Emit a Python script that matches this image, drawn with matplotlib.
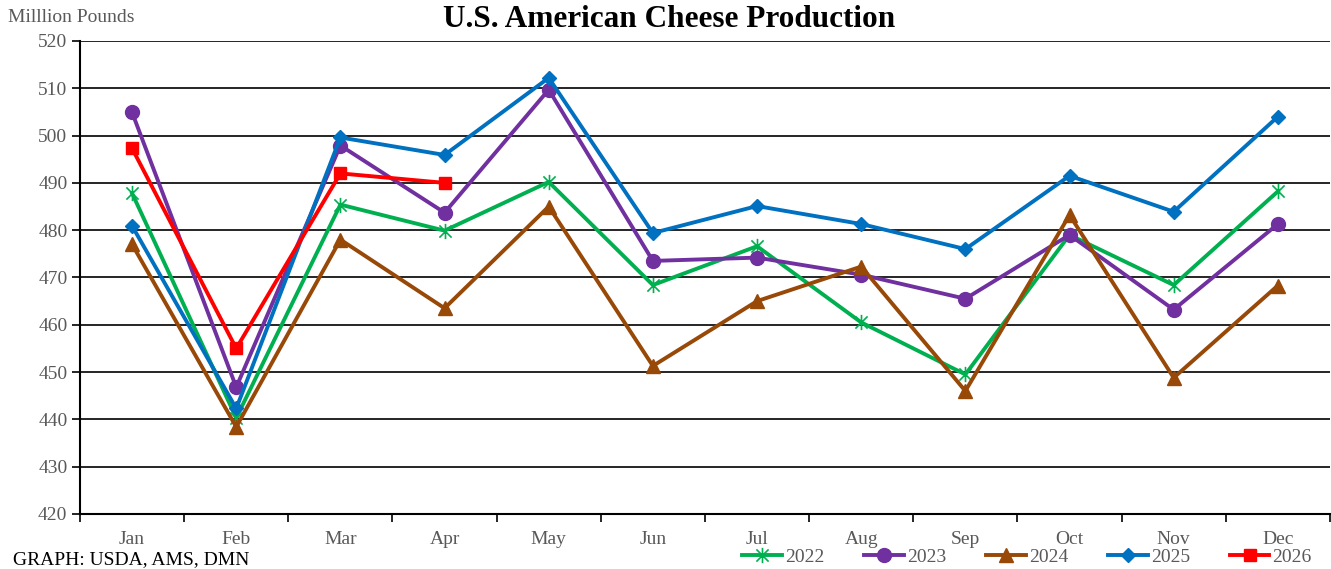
import matplotlib.pyplot as plt
from matplotlib.path import Path

plt.rcParams['font.family'] = ['Liberation Serif', 'DejaVu Serif']

# Monthly American cheese production, million pounds
months = ['Jan', 'Feb', 'Mar', 'Apr', 'May', 'Jun', 'Jul', 'Aug', 'Sep', 'Oct', 'Nov', 'Dec']
y2022 = [487.8, 440.3, 485.4, 479.9, 490.2, 468.4, 476.6, 460.5, 449.5, 479.0, 468.4, 488.2]
y2023 = [504.9, 446.8, 497.9, 483.7, 509.7, 473.5, 474.2, 470.6, 465.5, 479.0, 463.2, 481.3]
y2024 = [477.0, 438.4, 478.0, 463.5, 485.0, 451.3, 465.0, 472.3, 446.0, 483.2, 448.8, 468.3]
y2025 = [480.9, 442.3, 499.6, 495.9, 512.2, 479.4, 485.1, 481.3, 476.0, 491.5, 483.9, 504.0]
y2026 = [497.3, 455.0, 492.0, 490.0]

# Excel-style star marker: vertical bar plus an X
star = Path([(0, -1), (0, 1), (-0.8, -0.8), (0.8, 0.8), (-0.8, 0.8), (0.8, -0.8)],
            [Path.MOVETO, Path.LINETO, Path.MOVETO, Path.LINETO, Path.MOVETO, Path.LINETO])

x = list(range(1, 13))

fig = plt.figure(figsize=(13.31, 5.69), dpi=100)
ax = fig.add_axes([0.0601, 0.0967, 0.9391, 0.8313])

ax.plot(x, y2022, color='#00B050', lw=2.8, marker=star, markersize=11,
        markeredgewidth=1.2, label='2022')
ax.plot(x, y2023, color='#7030A0', lw=2.8, marker='o', markersize=10, label='2023')
ax.plot(x, y2024, color='#984807', lw=2.8, marker='^', markersize=10, label='2024')
ax.plot(x, y2025, color='#0070C0', lw=2.8, marker='D', markersize=7, label='2025')
ax.plot(x[:len(y2026)], y2026, color='#FF0000', lw=2.8, marker='s', markersize=9, label='2026')

ax.set_xlim(0.5, 12.5)
ax.set_ylim(420, 520)
ax.set_yticks(range(420, 521, 10))
ax.yaxis.grid(True, color='black', lw=1.2)
ax.set_axisbelow(True)

ax.set_xticks(x)
ax.set_xticklabels(months)
ax.set_xticks([i + 0.5 for i in range(0, 13)], minor=True)
ax.tick_params(axis='x', which='major', length=0, pad=12.5, labelsize=14, labelcolor='#595959')
ax.tick_params(axis='x', which='minor', length=6, width=1.2, direction='out')
ax.tick_params(axis='y', length=6, width=1.2, pad=3, labelsize=14, labelcolor='#595959')

for side in ['top', 'right']:
    ax.spines[side].set_visible(False)
for side in ['left', 'bottom']:
    ax.spines[side].set_linewidth(1.5)
    ax.spines[side].set_color('black')

fig.text(0.503, 0.965, 'U.S. American Cheese Production', ha='center', va='center',
         fontsize=22.5, fontweight='bold')
fig.text(0.006, 0.97, 'Milllion Pounds', ha='left', va='center', fontsize=14, color='#595959')
fig.text(0.01, 0.017, 'GRAPH: USDA, AMS, DMN', ha='left', va='center', fontsize=14)

fig.legend(loc='center', bbox_to_anchor=(0.7715, 0.021), ncol=5, frameon=False,
           fontsize=14, handlelength=2.05, columnspacing=2.05, handletextpad=0.15,
           labelcolor='#595959')

fig.savefig('out.png', dpi=100)
